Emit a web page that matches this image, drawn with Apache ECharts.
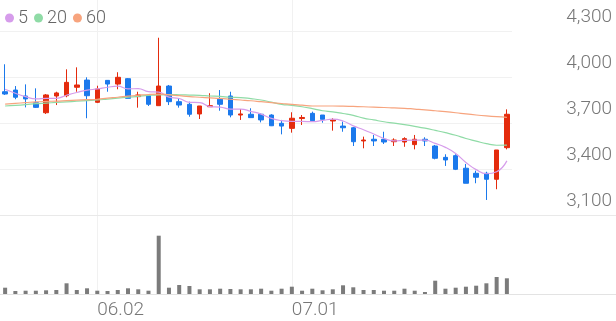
<!DOCTYPE html>
<html>
<head>
<meta charset="utf-8">
<script src="https://cdn.jsdelivr.net/npm/echarts@6/dist/echarts.min.js"></script>
<style>
html,body{margin:0;padding:0;background:#fff;}
#chart{width:616px;height:321px;}
</style>
</head>
<body>
<div id="chart"></div>
<script>
const dates = ['05.20','05.21','05.22','05.23','05.26','05.27','05.28','05.29','05.30',
  '06.02','06.04','06.05','06.09','06.10','06.11','06.12','06.13','06.16','06.17','06.18','06.19','06.20',
  '06.23','06.24','06.25','06.26','06.27','06.30',
  '07.01','07.02','07.03','07.04','07.07','07.08','07.09','07.10','07.11','07.14','07.15','07.16','07.17','07.18',
  '07.21','07.22','07.23','07.24','07.25','07.28','07.29','07.30'];
const opens  = [3904,3915,3876,3832,3767,3876,3878,3933,3980,3835,3978,3954,3989,3872,3878,3813,3941,3839,3822,3759,3806,3855,3876,3752,3757,3757,3752,3698,3665,3729,3763,3752,3713,3680,3669,3583,3594,3594,3578,3576,3559,3594,3550,3476,3487,3405,3372,3372,3333,3539];
const closes = [3889,3868,3857,3802,3883,3896,3965,3948,3878,3922,3954,3998,3861,3883,3822,3941,3839,3817,3757,3811,3813,3822,3752,3759,3735,3720,3682,3680,3731,3736,3715,3724,3720,3669,3578,3589,3583,3576,3589,3598,3594,3583,3470,3459,3398,3307,3346,3333,3524,3757];
const lows   = [3883,3855,3802,3798,3759,3817,3868,3904,3731,3830,3904,3920,3861,3800,3811,3813,3817,3800,3741,3726,3806,3780,3737,3720,3735,3704,3680,3626,3637,3687,3715,3702,3650,3643,3550,3535,3550,3563,3550,3545,3528,3550,3463,3420,3393,3307,3307,3198,3268,3528];
const highs  = [4083,3941,3952,3926,3889,3904,4050,4063,3998,3943,3980,4031,3993,3904,3883,4256,3948,3861,3839,3811,3894,3915,3904,3791,3796,3763,3757,3720,3770,3752,3774,3752,3731,3709,3674,3611,3622,3643,3600,3607,3622,3607,3557,3496,3496,3433,3389,3382,3524,3789];
const ma5  = [3920,3894,3872,3857,3860,3861,3881,3899,3914,3922,3933,3940,3923,3924,3904,3901,3869,3860,3835,3833,3807,3804,3791,3791,3776,3758,3730,3715,3710,3710,3709,3717,3725,3713,3681,3656,3628,3599,3583,3587,3588,3588,3567,3541,3501,3443,3396,3369,3382,3453];
const ma20 = [3811,3815,3820,3826,3830,3834,3838,3842,3846,3850,3856,3862,3868,3874,3880,3884,3885,3884,3882,3880,3876,3873,3868,3866,3859,3850,3836,3822,3815,3806,3794,3780,3773,3762,3750,3732,3720,3708,3699,3689,3678,3666,3652,3637,3620,3599,3582,3565,3555,3556];
const ma60 = [3823,3828,3833,3838,3841,3843,3846,3849,3852,3855,3862,3868,3875,3881,3886,3888,3884,3878,3872,3868,3864,3860,3855,3850,3845,3839,3833,3827,3821,3816,3811,3811,3811,3810,3808,3806,3803,3801,3798,3796,3791,3786,3780,3774,3767,3759,3752,3746,3741,3737];
const volumes = [126000,60000,66000,66000,74000,80000,214000,80000,114000,66000,60000,80000,114000,94000,66000,1166000,126000,180000,160000,94000,94000,106000,100000,94000,94000,106000,66000,106000,146000,66000,106000,74000,94000,174000,134000,80000,80000,66000,66000,106000,66000,40000,266000,106000,126000,146000,166000,214000,340000,314000];
const shownDates = ['06.02','07.01'];
const maNames = ['5','20','60'];
const yTicks = {min:3100, interval:300};

const candleData = dates.map((d,i)=>[opens[i],closes[i],lows[i],highs[i]]);
const chart = echarts.init(document.getElementById('chart'), null, {renderer:'canvas'});
const font = 'Roboto';
const gridColor = '#f1f1f1';
const pick = (idx, val) => shownDates.indexOf(val) >= 0;
const priceMax = 3100 + 215 * 300 / 46;

chart.setOption({
  animation:false,
  textStyle:{fontFamily:font},
  legend:{
    data:maNames, left:0, top:4, icon:'circle', itemWidth:9, itemHeight:9, itemGap:6,
    textStyle:{fontSize:18, color:'#666', fontFamily:font, fontWeight:300, padding:[0,0,0,-1]}
  },
  grid:[
    {left:0, width:512, top:0, height:215},
    {left:0, width:512, top:215, height:79},
    {left:0, right:0, top:0, height:215},
    {left:0, right:0, top:215, height:79}
  ],
  xAxis:[
    {type:'category', data:dates, gridIndex:0, boundaryGap:true,
     axisLine:{show:false}, axisTick:{show:false}, axisLabel:{show:false},
     splitLine:{show:true, interval:pick, alignWithLabel:true, lineStyle:{color:gridColor, width:1}}},
    {type:'category', data:dates, gridIndex:1, boundaryGap:true,
     axisLine:{show:false}, axisTick:{show:false},
     axisLabel:{show:true, interval:pick, align:'left', fontSize:19, color:'#777', fontFamily:font, fontWeight:300, margin:7},
     splitLine:{show:true, interval:pick, alignWithLabel:true, lineStyle:{color:gridColor, width:1}}},
    {type:'value', gridIndex:2, axisLine:{show:true, lineStyle:{color:'#e9e9e9'}}, axisTick:{show:false}, axisLabel:{show:false}, splitLine:{show:false}},
    {type:'value', gridIndex:3, axisLine:{show:true, lineStyle:{color:'#e3e3e3'}}, axisTick:{show:false}, axisLabel:{show:false}, splitLine:{show:false}}
  ],
  yAxis:[
    {type:'value', gridIndex:0, position:'right', min:yTicks.min, max:priceMax, interval:yTicks.interval,
     axisLine:{show:false}, axisTick:{show:false},
     axisLabel:{show:true, showMaxLabel:false, align:'right', verticalAlign:'bottom', margin:100, fontSize:19, color:'#777', fontFamily:font, fontWeight:300, padding:[0,0,4,0],
       formatter:v=> (v - yTicks.min) % yTicks.interval === 0 ? v.toLocaleString('en-US') : ''},
     splitLine:{show:true, showMaxLine:false, lineStyle:{color:gridColor, width:1}}},
    {type:'value', gridIndex:1, min:0, max:1580000, show:false, splitLine:{show:false}},
    {type:'value', gridIndex:2, show:false},
    {type:'value', gridIndex:3, show:false}
  ],
  series:[
    {type:'candlestick', name:'price', xAxisIndex:0, yAxisIndex:0, data:candleData, barWidth:5,
     itemStyle:{color:'#e42b0d', color0:'#1b79ec', borderColor:'#e42b0d', borderColor0:'#1b79ec', borderWidth:1}},
    {type:'line', name:'5', data:ma5, xAxisIndex:0, yAxisIndex:0, smooth:true, showSymbol:false, symbol:'circle', color:'#d69ceb', lineStyle:{width:1.2, color:'#d69ceb'}, z:3},
    {type:'line', name:'20', data:ma20, xAxisIndex:0, yAxisIndex:0, smooth:true, showSymbol:false, symbol:'circle', color:'#8fdba6', lineStyle:{width:1.2, color:'#8fdba6'}, z:3},
    {type:'line', name:'60', data:ma60, xAxisIndex:0, yAxisIndex:0, smooth:true, showSymbol:false, symbol:'circle', color:'#f7a47e', lineStyle:{width:1.2, color:'#f7a47e'}, z:3},
    {type:'bar', name:'vol', data:volumes, xAxisIndex:1, yAxisIndex:1, barWidth:4, itemStyle:{color:'#7b7b7b'}}
  ]
});
</script>
</body>
</html>
